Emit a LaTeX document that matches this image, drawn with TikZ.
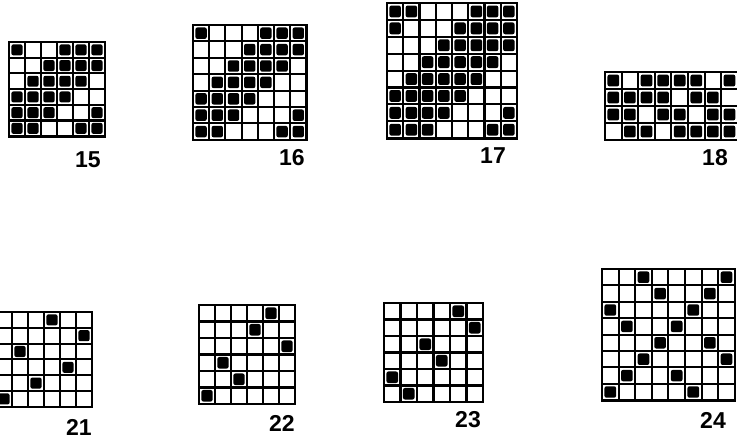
\documentclass[tikz,border=0pt]{standalone}
\usepackage{fontspec}
\setsansfont{Liberation Sans}
\usepackage{tikz}
\usetikzlibrary{positioning}
\tikzset{
  gridline/.style={line width=2.1pt, black},
  gridframe/.style={line width=2.6pt, black},
  cellmark/.style={fill=black, rounded corners=2pt},
  numlabel/.style={font=\sffamily\bfseries\fontsize{23}{23}\selectfont, inner sep=0pt},
}
% #1,#2 top left corner, #3 columns, #4 rows, #5 cell width, #6 cell height, #7 rows of 0/1
\newcommand{\patterngrid}[7]{%
  \begin{scope}[shift={(#1,#2)}, x=#5pt, y=-#6pt]
    \foreach \row [count=\j] in {#7} {
      \foreach \v [count=\i] in \row {
        \ifnum\v=1 \fill[cellmark] (\i-0.85,\j-0.85) rectangle (\i-0.15,\j-0.15); \fi
      }
    }
    \foreach \i in {1,...,\numexpr#3-1\relax} \draw[gridline] (\i,0) -- (\i,#4);
    \foreach \j in {1,...,\numexpr#4-1\relax} \draw[gridline] (0,\j) -- (#3,\j);
    \draw[gridframe] (0,0) rectangle (#3,#4);
  \end{scope}}

\begin{document}
\begin{tikzpicture}[x=1pt, y=-1pt]
\useasboundingbox (0,0) rectangle (737,440);
\clip (0,0) rectangle (737,440);
% upper row
\patterngrid{9}{42}{6}{6}{16}{15.7}{{1,0,0,1,1,1},{0,0,1,1,1,1},{0,1,1,1,1,0},{1,1,1,1,0,0},{1,1,1,0,0,1},{1,1,0,0,1,1}}
\patterngrid{193}{25}{7}{7}{16.2}{16.4}{{1,0,0,0,1,1,1},{0,0,0,1,1,1,1},{0,0,1,1,1,1,0},{0,1,1,1,1,0,0},{1,1,1,1,0,0,0},{1,1,1,0,0,0,1},{1,1,0,0,0,1,1}}
\patterngrid{387}{3}{8}{8}{16.25}{16.9}{{1,1,0,0,0,1,1,1},{1,0,0,0,1,1,1,1},{0,0,0,1,1,1,1,1},{0,0,1,1,1,1,1,0},{0,1,1,1,1,1,0,0},{1,1,1,1,1,0,0,0},{1,1,1,1,0,0,0,1},{1,1,1,0,0,0,1,1}}
\patterngrid{605}{72}{8}{4}{16.6}{17}{{1,0,1,1,1,1,0,1},{1,1,1,1,0,1,1,0},{1,1,0,1,1,0,1,1},{0,1,1,0,1,1,1,1}}
\node[numlabel] (lab15) at (88,160) {15};
\node[numlabel] (lab16) at (292,158) {16};
\node[numlabel] (lab17) at (493,156) {17};
\node[numlabel] (lab18) at (715,158) {18};
% lower row
\patterngrid{-4}{312}{6}{6}{16}{15.8}{{0,0,0,1,0,0},{0,0,0,0,0,1},{0,1,0,0,0,0},{0,0,0,0,1,0},{0,0,1,0,0,0},{1,0,0,0,0,0}}
\patterngrid{199}{305}{6}{6}{16}{16.5}{{0,0,0,0,1,0},{0,0,0,1,0,0},{0,0,0,0,0,1},{0,1,0,0,0,0},{0,0,1,0,0,0},{1,0,0,0,0,0}}
\patterngrid{384}{303}{6}{6}{16.5}{16.5}{{0,0,0,0,1,0},{0,0,0,0,0,1},{0,0,1,0,0,0},{0,0,0,1,0,0},{1,0,0,0,0,0},{0,1,0,0,0,0}}
\patterngrid{602}{269}{8}{8}{16.6}{16.4}{{0,0,1,0,0,0,0,1},{0,0,0,1,0,0,1,0},{1,0,0,0,0,1,0,0},{0,1,0,0,1,0,0,0},{0,0,0,1,0,0,1,0},{0,0,1,0,0,0,0,1},{0,1,0,0,1,0,0,0},{1,0,0,0,0,1,0,0}}
\node[numlabel] (lab21) at (79,427) {21};
\node[numlabel] (lab22) at (282,423) {22};
\node[numlabel] (lab23) at (468,420) {23};
\node[numlabel] (lab24) at (713,420) {24};
\end{tikzpicture}
\end{document}
